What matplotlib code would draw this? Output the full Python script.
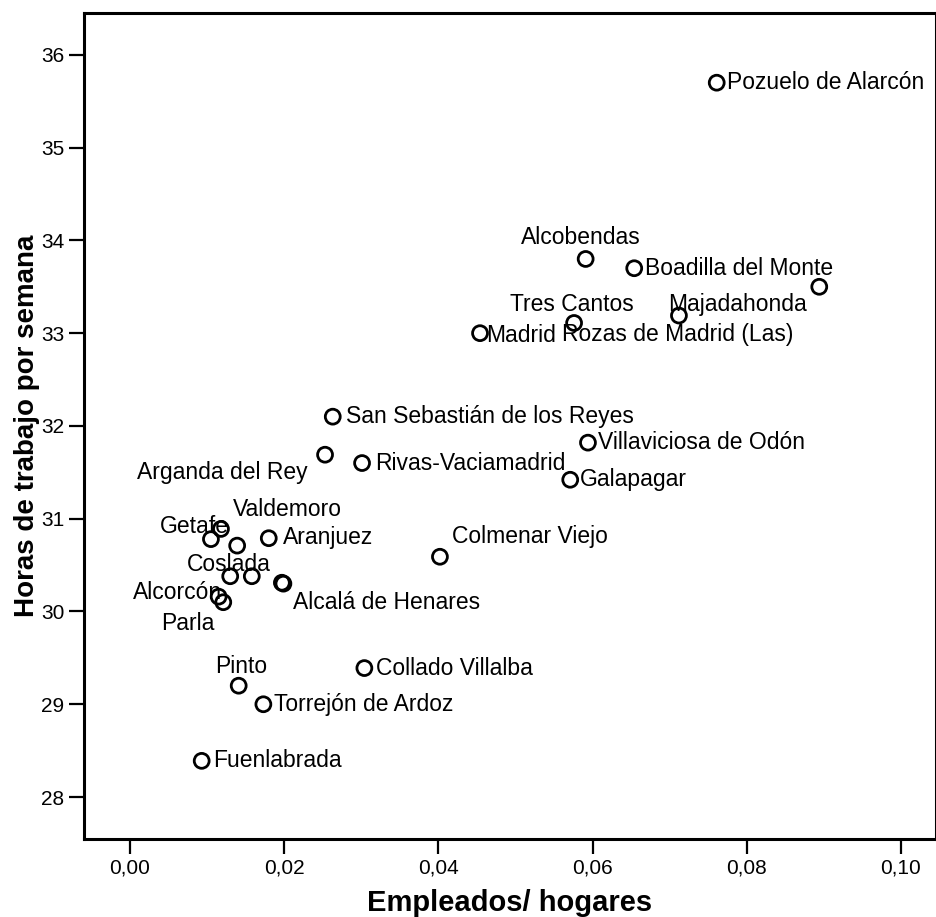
import matplotlib.pyplot as plt
from matplotlib.ticker import FuncFormatter

plt.rcParams['font.family'] = ['Liberation Sans', 'DejaVu Sans']

# Municipios de la Comunidad de Madrid
municipios = ['Pozuelo de Alarcón', 'Alcobendas', 'Boadilla del Monte', 'Tres Cantos',
              'Majadahonda', 'Rozas de Madrid (Las)', 'Madrid', 'San Sebastián de los Reyes',
              'Arganda del Rey', 'Rivas-Vaciamadrid', 'Villaviciosa de Odón', 'Galapagar',
              'Colmenar Viejo', 'Getafe', '', 'Valdemoro', 'Aranjuez', 'Coslada', '',
              'Alcalá de Henares', '', 'Alcorcón', 'Parla', 'Pinto', 'Torrejón de Ardoz',
              'Collado Villalba', 'Fuenlabrada']
empleados_hogares = [0.0761, 0.0591, 0.0654, 0.0576, 0.0712, 0.0894, 0.0454, 0.0263,
                     0.0253, 0.0301, 0.0594, 0.0571, 0.0402, 0.0118, 0.0105, 0.0139,
                     0.0180, 0.0130, 0.0158, 0.0197, 0.0199, 0.0115, 0.0121, 0.0141,
                     0.0173, 0.0304, 0.0093]
horas_semana = [35.70, 33.80, 33.70, 33.11, 33.19, 33.50, 33.00, 32.10,
                31.69, 31.60, 31.82, 31.42, 30.59, 30.89, 30.78, 30.71,
                30.79, 30.38, 30.38, 30.31, 30.30, 30.16, 30.10, 29.20,
                29.00, 29.39, 28.39]

# label offsets in pixels from each marker (right, up)
offsets = [(10, 0), (-65, 21), (11, 0), (-64, 18), (-11, 11), (-257, -48), (6, -2), (13, 0),
           (-188, -18), (13, 0), (10, 0), (10, 0), (12, 20), (-61, 2), (0, 0), (-4, 36),
           (14, 1), (-43, 12), (0, 0), (11, -20), (0, 0), (-86, 4), (-62, -21), (-24, 19),
           (11, 0), (12, 0), (11, 0)]

fig = plt.figure(figsize=(9.37, 9.17), dpi=100)
ax = fig.add_axes([0.0896, 0.085, 0.909, 0.901])

ax.scatter(empleados_hogares, horas_semana, s=115, facecolors='none',
           edgecolors='black', linewidths=2.0, zorder=3)

for name, x, y, (dx, dy) in zip(municipios, empleados_hogares, horas_semana, offsets):
    if name:
        ax.annotate(name, (x, y), xytext=(dx, dy), textcoords='offset pixels',
                    ha='left', va='center', fontsize=16.5, color='black')

ax.set_xlim(-0.00597, 0.1045)
ax.set_ylim(27.547, 36.453)
ax.set_xticks([0.00, 0.02, 0.04, 0.06, 0.08, 0.10])
ax.set_yticks(range(28, 37))
ax.xaxis.set_major_formatter(FuncFormatter(lambda v, p: f'{v:.2f}'.replace('.', ',')))
ax.tick_params(axis='both', direction='out', length=11, width=1.6, labelsize=15, pad=3)

for sp in ax.spines.values():
    sp.set_linewidth(2.2)

ax.set_xlabel('Empleados/ hogares', fontsize=21, fontweight='bold', labelpad=8)
ax.set_ylabel('Horas de trabajo por semana', fontsize=20, fontweight='bold', labelpad=1)

plt.savefig('out.png', dpi=100)
